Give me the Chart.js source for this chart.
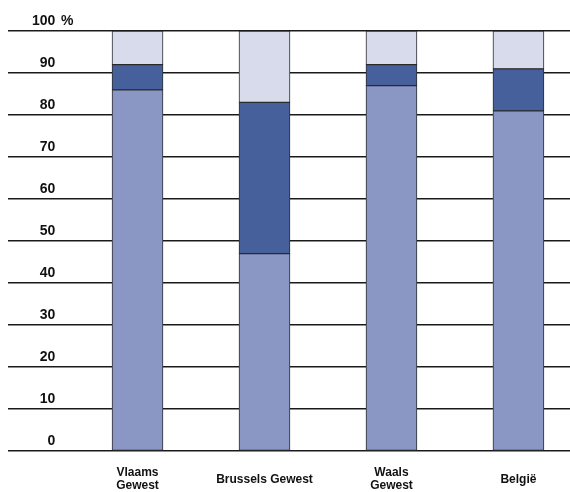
<!DOCTYPE html>
<html>
<head>
<meta charset="utf-8">
<script src="https://cdn.jsdelivr.net/npm/chart.js@4"></script>
<style>
  html, body { margin: 0; padding: 0; background: #fff; }
  #wrap { width: 570px; height: 492px; }
</style>
</head>
<body>
<div id="wrap"><canvas id="chart"></canvas></div>
<script>
// categorieën en waarden (% per gewest)
const regions = [['Vlaams', 'Gewest'], 'Brussels Gewest', ['Waals', 'Gewest'], 'België'];
const partBottom = [86, 47, 87, 81];
const partMiddle = [6, 36, 5, 10];
const partTop = [8, 17, 8, 9];
const yTicks = [0, 10, 20, 30, 40, 50, 60, 70, 80, 90, 100];

const colors = {
  bottom: '#8a97c5',
  middle: '#46609c',
  top: '#d8dbeb',
  edge: '#2b2b2b',
  grid: '#1a1a1a',
  text: '#111111'
};

const fontFamily = '"Liberation Sans", Arial, sans-serif';

function toPoints(values) {
  return values.map((v, i) => ({ x: i, y: v }));
}

function makeSet(values, color) {
  return {
    data: toPoints(values),
    backgroundColor: color,
    borderColor: colors.edge,
    borderWidth: 1,
    borderSkipped: false,
    barThickness: 51
  };
}

// "%" achter de 100-label
const percentSign = {
  id: 'percentSign',
  afterDraw(chart) {
    const y = chart.scales.y.getPixelForValue(100) - 10;
    const ctx = chart.ctx;
    ctx.save();
    ctx.font = 'bold 14px ' + fontFamily;
    ctx.fillStyle = colors.text;
    ctx.textAlign = 'left';
    ctx.textBaseline = 'middle';
    ctx.fillText('%', 61, y);
    ctx.restore();
  }
};

new Chart(document.getElementById('chart'), {
  type: 'bar',
  data: {
    datasets: [
      makeSet(partBottom, colors.bottom),
      makeSet(partMiddle, colors.middle),
      makeSet(partTop, colors.top)
    ]
  },
  options: {
    responsive: true,
    maintainAspectRatio: false,
    animation: false,
    layout: { padding: { left: 8, top: 31, right: 0, bottom: 0 } },
    plugins: { legend: { display: false }, tooltip: { enabled: false } },
    scales: {
      x: {
        type: 'linear',
        stacked: true,
        offset: false,
        min: -1.02,
        max: 3.406,
        afterBuildTicks: scale => { scale.ticks = regions.map((r, i) => ({ value: i })); },
        afterFit: scale => { scale.height = 41; },
        grid: { display: false },
        border: { display: false },
        ticks: {
          autoSkip: false,
          maxRotation: 0,
          padding: 14,
          crossAlign: 'center',
          color: colors.text,
          font: { family: fontFamily, size: 12, weight: 'bold', lineHeight: 1.05 },
          callback: v => regions[v]
        }
      },
      y: {
        stacked: true,
        min: 0,
        max: 100,
        afterBuildTicks: scale => { scale.ticks = yTicks.map(v => ({ value: v })); },
        afterFit: scale => {
          scale.width = 0;
          scale.paddingTop = 0;
          scale.paddingBottom = 0;
        },
        grid: { color: colors.grid, lineWidth: 1.4, drawTicks: false },
        border: { display: false },
        ticks: {
          mirror: true,
          crossAlign: 'far',
          padding: 24,
          labelOffset: -10,
          color: colors.text,
          font: { family: fontFamily, size: 14, weight: 'bold' }
        }
      }
    }
  },
  plugins: [percentSign]
});
</script>
</body>
</html>
